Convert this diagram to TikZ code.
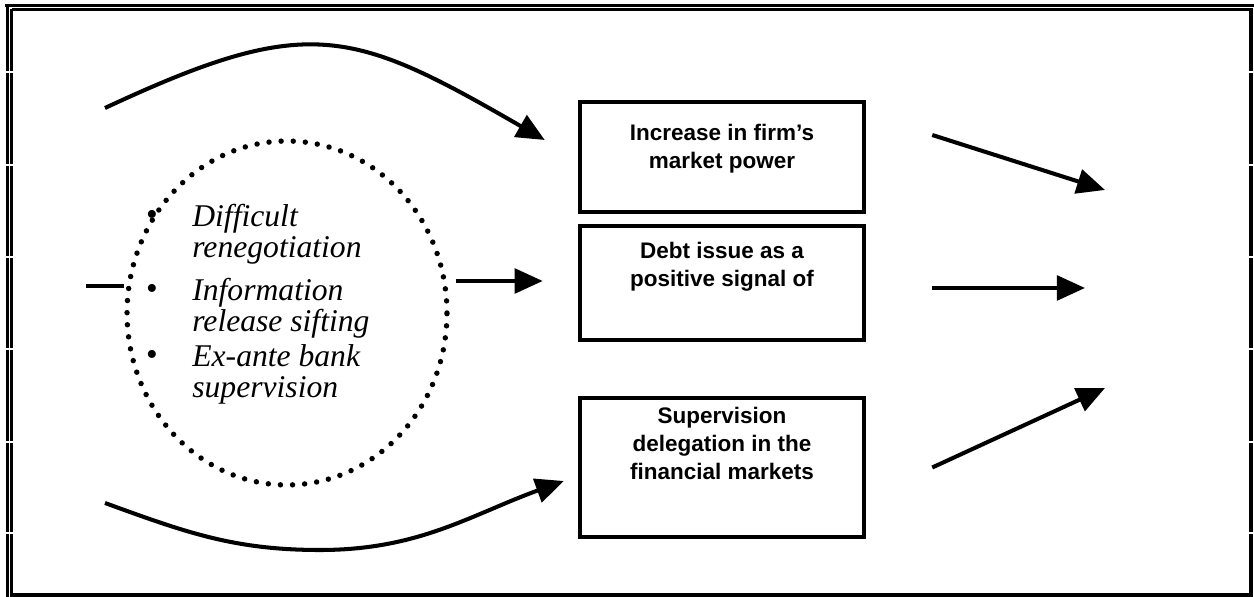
\documentclass[tikz,border=0pt]{standalone}
\usepackage{fontspec}
\setmainfont{Liberation Serif}
\newfontfamily\boxfont{Liberation Sans}
\usepackage{tikz}
\usetikzlibrary{arrows.meta,shapes.geometric}

\tikzset{
  frame/.style={line width=1.8pt},
  flowbox/.style={draw, line width=2.6pt, minimum width=5.68cm, inner sep=0pt},
  boxtext/.style={font=\boxfont\bfseries\fontsize{12.8}{15.9}\selectfont, align=center, anchor=north, inner sep=0pt},
  itemtext/.style={font=\itshape\fontsize{18}{17.6}\selectfont, align=left, anchor=north west, inner sep=0pt},
  itemdot/.style={font=\fontsize{19}{19}\selectfont, inner sep=0pt},
  dotring/.style={ellipse, draw, line width=3.1pt, dash pattern=on 0pt off 6.9pt, line cap=round, minimum width=6.4cm, minimum height=6.88cm},
  flow/.style={line width=2.3pt, -{Triangle[length=16pt,width=14pt]}},
}

\begin{document}
\begin{tikzpicture}[x=0.02cm,y=-0.02cm]
    \useasboundingbox (0,0) rectangle (1254,597);
    % page frame
    \draw[frame] (5,5.5) -- (1254,5.5);
    \draw[frame] (7.5,5.5) -- (7.5,597);
    \draw[frame] (11.5,9.5) -- (1251,9.5);
    \draw[frame] (11.5,9.5) -- (11.5,595);
    \draw[frame,line width=2.3pt] (1251,8) -- (1251,597);
    \draw[frame,line width=2.3pt] (10,595) -- (1253,595);
    \foreach \y in {72,165,257,349,442,533} {
      \draw[white,line width=0.6pt] (4,\y) -- (16,\y);
      \draw[white,line width=0.6pt] (1246,\y) -- (1254,\y);
    }

    % boxes
    \node[flowbox, minimum height=2.2cm] (power) at (722,157) {};
    \node[boxtext] (powertext) at ([yshift=-0.48cm]power.north) {Increase in firm’s\\market power};
    \node[flowbox, minimum height=2.28cm] (signal) at (722,283) {};
    \node[boxtext] (signaltext) at ([yshift=-0.36cm]signal.north) {Debt issue as a\\positive signal of};
    \node[flowbox, minimum height=2.78cm] (super) at (722,467.5) {};
    \node[boxtext] (supertext) at ([yshift=-0.22cm]super.north) {Supervision\\delegation in the\\financial markets};

    % dotted ring with the list
    \node[dotring] (ring) at (287,313) {};
    \node[itemdot] (dot1) at (152,218) {\textbullet};
    \node[itemdot] (dot2) at (152,292) {\textbullet};
    \node[itemdot] (dot3) at (152,358) {\textbullet};
    \node[itemtext] (item1) at (192,204) {Difficult\\renegotiation};
    \node[itemtext] (item2) at (192,278) {Information\\release sifting};
    \node[itemtext] (item3) at (192,344) {Ex-ante bank\\supervision};

    % arrow ends
    \coordinate (topstart) at (105,108);
    \coordinate (powerin) at ([shift={(-33,-17)}]power.west);
    \coordinate (botstart) at (105,503);
    \coordinate (botlow) at (320,550);
    \coordinate (superin) at ([shift={(-14,13.5)}]super.west);
    \coordinate (stub) at (86,286);
    \coordinate (signalin) at ([shift={(-35,-2)}]signal.west);
    \coordinate (powerout) at (1105,190);
    \coordinate (signalout) at (1085,288);
    \coordinate (superout) at (1105,388);

    \draw[flow] (topstart) to[out=25,in=150,looseness=1.3] (powerin);
    \draw[flow] (botstart) to[out=-20,in=180] (botlow) to[out=0,in=-160] (superin);
    \draw[line width=2.3pt] (stub) -- (stub -| ring.west);
    \draw[flow] ([xshift=0.12cm]ring.east |- signalin) -- (signalin);
    \draw[flow] ([shift={(66,-22)}]power.east) -- (powerout);
    \draw[flow] ([shift={(66,5)}]signal.east) -- (signalout);
    \draw[flow] ([shift={(66,0)}]super.east) -- (superout);
\end{tikzpicture}
\end{document}
